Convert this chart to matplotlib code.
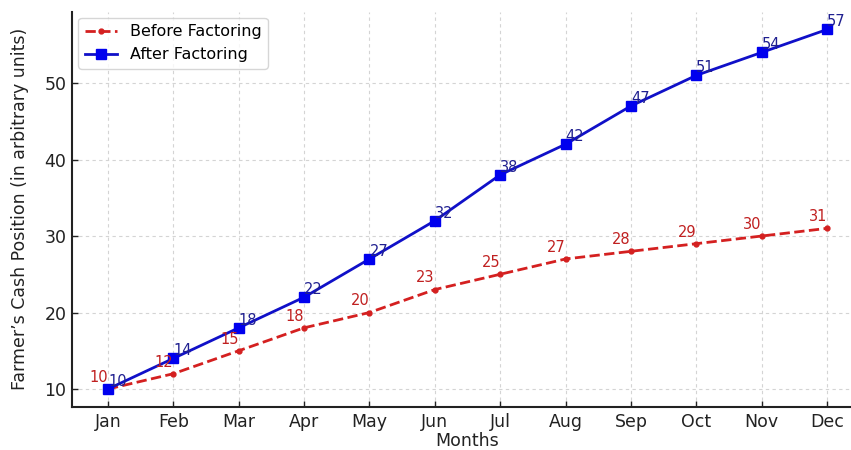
import matplotlib
matplotlib.use("Agg")
import matplotlib.pyplot as plt

months = ["Jan", "Feb", "Mar", "Apr", "May", "Jun", "Jul", "Aug", "Sep", "Oct", "Nov", "Dec"]
before_factoring = [10, 12, 15, 18, 20, 23, 25, 27, 28, 29, 30, 31]
after_factoring = [10, 14, 18, 22, 27, 32, 38, 42, 47, 51, 54, 57]

W, H = 851, 450
fig = plt.figure(figsize=(W / 100, H / 100), dpi=100)
ax = fig.add_axes([72 / W, (H - 407) / H, (863 - 72) / W, (407 - 11.5) / H])

x = list(range(len(months)))
ax.plot(x, before_factoring, linestyle="--", marker="o", markersize=3.5,
        color="#d42020", linewidth=2, label="Before Factoring")
ax.plot(x, after_factoring, linestyle="-", marker="s", markersize=7,
        color="#1010c8", markerfacecolor="#0000ee", markeredgecolor="#0000ee",
        linewidth=2, label="After Factoring")

for xi, v in zip(x, before_factoring):
    ax.annotate(str(v), (xi, v), textcoords="offset points", xytext=(0, 3),
                ha="right", va="bottom", color="#c02020", fontsize=10.5)
for xi, v in zip(x, after_factoring):
    ax.annotate(str(v), (xi, v), textcoords="offset points", xytext=(0, 0),
                ha="left", va="bottom", color="#202090", fontsize=10.5)

ax.set_xticks(x)
ax.set_xticklabels(months)
ax.set_yticks([10, 20, 30, 40, 50])
ax.tick_params(axis="both", direction="in", labelsize=12.5, colors="#222222",
               length=4, width=1, pad=4)
ax.set_xlabel("Months", fontsize=12.5, color="#222222", labelpad=1)
ax.set_ylabel("Farmer\u2019s Cash Position (in arbitrary units)", fontsize=12.5,
              color="#222222", labelpad=11)

ax.grid(True, linestyle=(0, (3, 3)), color="#d4d4d4", linewidth=0.8)
ax.set_axisbelow(True)
for side in ("top", "right"):
    ax.spines[side].set_visible(False)
for side in ("left", "bottom"):
    ax.spines[side].set_color("#222222")
    ax.spines[side].set_linewidth(1.5)

ax.legend(loc="upper left", fontsize=11.5, frameon=True, framealpha=0.8,
          edgecolor="#cccccc", borderaxespad=0.4)

fig.savefig("out.png", dpi=100)
